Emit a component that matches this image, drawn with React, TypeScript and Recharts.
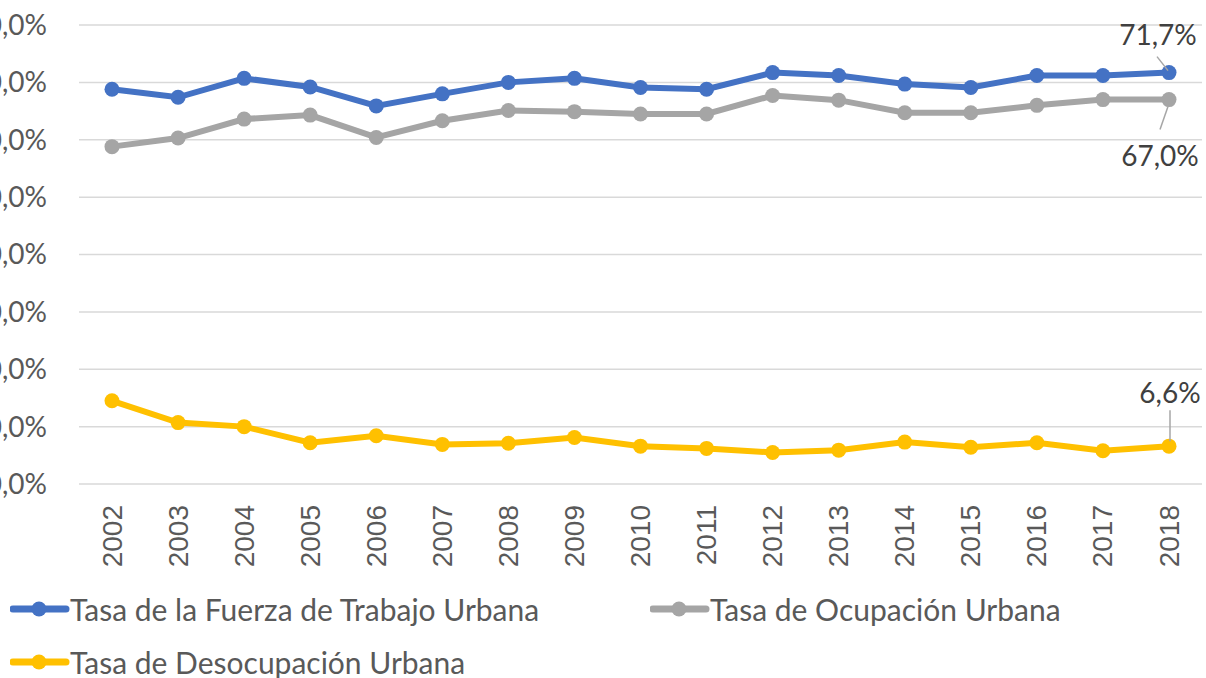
import { CartesianGrid, LabelList, Legend, Line, LineChart, XAxis, YAxis } from 'recharts';

const years = [
  '2002', '2003', '2004', '2005', '2006', '2007', '2008', '2009', '2010',
  '2011', '2012', '2013', '2014', '2015', '2016', '2017', '2018',
];
const fuerzaTrabajo = [68.8, 67.4, 70.7, 69.2, 65.9, 68.0, 70.0, 70.7, 69.1, 68.8, 71.7, 71.2, 69.7, 69.1, 71.2, 71.2, 71.7];
const ocupacion = [58.8, 60.3, 63.6, 64.3, 60.4, 63.3, 65.1, 64.9, 64.5, 64.5, 67.7, 66.9, 64.7, 64.7, 66.0, 67.0, 67.0];
const desocupacion = [14.5, 10.7, 10.0, 7.2, 8.4, 6.9, 7.1, 8.1, 6.6, 6.2, 5.5, 5.9, 7.3, 6.4, 7.2, 5.8, 6.6];
const yTicks = [0, 10, 20, 30, 40, 50, 60, 70, 80];

const SERIES = [
  { key: 'fuerza', name: 'Tasa de la Fuerza de Trabajo Urbana', color: '#4472C4' },
  { key: 'ocupacion', name: 'Tasa de Ocupación Urbana', color: '#A5A5A5' },
  { key: 'desocupacion', name: 'Tasa de Desocupación Urbana', color: '#FFC000' },
];

const data = years.map((year, i) => ({
  year,
  fuerza: fuerzaTrabajo[i],
  ocupacion: ocupacion[i],
  desocupacion: desocupacion[i],
}));

const LABEL_FONT = 'Lato, "Open Sans", sans-serif';
const fmt = (v: number) => `${v.toFixed(1).replace('.', ',')}%`;
const last = years.length - 1;

// label offsets for the last point of each series (text dx/dy, leader line)
const labelPos: Record<string, { dx: number; dy: number; l: [number, number, number, number] }> = {
  fuerza: { dx: -11, dy: -39, l: [-12, -16, -1, -2] },
  ocupacion: { dx: -9, dy: 55, l: [-9, 30, -1, 7] },
  desocupacion: { dx: 1, dy: -54, l: [1, -36, 1, -5] },
};

const makeLabel = (key: string) => (props: any) => {
  const { x, y, value, index } = props;
  if (index !== last) return null;
  const p = labelPos[key];
  return (
    <g>
      <line x1={x + p.l[0]} y1={y + p.l[1]} x2={x + p.l[2]} y2={y + p.l[3]} stroke="#A6A6A6" strokeWidth={1.5} />
      <text
        x={x + p.dx}
        y={y + p.dy}
        textAnchor="middle"
        dominantBaseline="central"
        fontFamily={LABEL_FONT}
        fontSize={28}
        fill="#404040"
      >
        {fmt(value)}
      </text>
    </g>
  );
};

const YearTick = ({ x, y, payload }: any) => (
  <text
    x={x}
    y={y}
    transform={`rotate(-90 ${x} ${y})`}
    textAnchor="end"
    dominantBaseline="central"
    fontFamily='"Liberation Sans", Arial, sans-serif'
    fontSize={28}
    fill="#595959"
  >
    {payload.value}
  </text>
);

const legendPlaces = [
  { left: 10, top: 35 },
  { left: 650, top: 35 },
  { left: 10, top: 88 },
];

const LegendContent = () => (
  <div style={{ position: 'relative', width: 1206, height: 104 }}>
    {SERIES.map((s, i) => (
      <div
        key={s.key}
        style={{
          position: 'absolute',
          left: legendPlaces[i].left,
          top: legendPlaces[i].top,
          transform: 'translateY(-50%)',
          display: 'flex',
          alignItems: 'center',
          whiteSpace: 'nowrap',
        }}
      >
        <svg width={60} height={18} style={{ display: 'block' }}>
          <line x1={3} y1={9} x2={56} y2={9} stroke={s.color} strokeWidth={7} strokeLinecap="round" />
          <circle cx={29} cy={9} r={7.5} fill={s.color} />
        </svg>
        <span style={{ fontFamily: LABEL_FONT, fontSize: 30, color: '#595959', lineHeight: 1 }}>{s.name}</span>
      </div>
    ))}
  </div>
);

export default function App() {
  return (
    <div style={{ position: 'absolute', left: 0, top: 0, width: 1206, height: 678, overflow: 'hidden', background: '#fff' }}>
      <LineChart width={1206} height={678} data={data} margin={{ top: 25, right: 4, left: 0, bottom: 0 }}>
        <CartesianGrid vertical={false} stroke="#D9D9D9" strokeWidth={1.5} />
        <XAxis
          dataKey="year"
          axisLine={false}
          tickLine={false}
          interval={0}
          height={90}
          tickSize={0}
          tickMargin={21}
          padding={{ left: 33, right: 33 }}
          tick={<YearTick />}
        />
        <YAxis
          width={79}
          domain={[0, 80]}
          ticks={yTicks}
          axisLine={false}
          tickLine={false}
          tickSize={0}
          tickMargin={32}
          tickFormatter={(v: number) => fmt(v)}
          tick={{ fontFamily: LABEL_FONT, fontSize: 28, fill: '#595959' }}
        />
        <Legend verticalAlign="bottom" content={<LegendContent />} wrapperStyle={{ left: 0, width: 1206, height: 104 }} />
        {SERIES.map((s) => (
          <Line
            key={s.key}
            dataKey={s.key}
            name={s.name}
            stroke={s.color}
            strokeWidth={6}
            dot={{ r: 7.5, fill: s.color, stroke: s.color, strokeWidth: 0 }}
            activeDot={false}
            isAnimationActive={false}
          >
            <LabelList dataKey={s.key} content={makeLabel(s.key)} />
          </Line>
        ))}
      </LineChart>
    </div>
  );
}
